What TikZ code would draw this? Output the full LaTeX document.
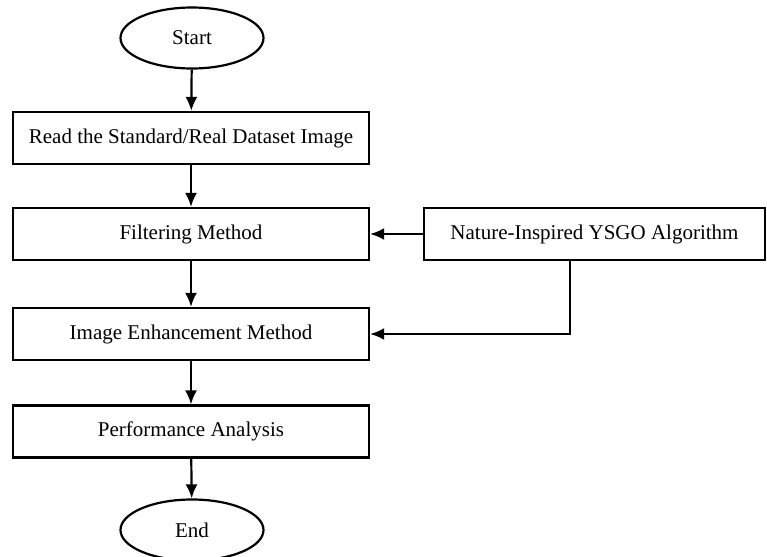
\documentclass[tikz,border=0pt]{standalone}
\usepackage{fontspec}
\setmainfont{Liberation Serif}
\usepackage{tikz}
\usetikzlibrary{arrows.meta,positioning,shapes.geometric,calc}

\begin{document}
\begin{tikzpicture}[x=0.5pt, y=-0.5pt,
    box/.style={rectangle, draw, line width=1.1pt, minimum width=178pt, minimum height=26pt, font=\fontsize{10.5}{12}\selectfont},
    term/.style={ellipse, draw, line width=1.1pt, minimum width=71.5pt, minimum height=30.5pt, inner sep=0pt, font=\fontsize{10.5}{12}\selectfont},
    arr/.style={line width=1.1pt, -{Latex[length=7pt, width=6pt]}},
]
    \clip (0,0) rectangle (767,557);
    \useasboundingbox (0,0) rectangle (767,557);

    % main flow
    \node[term] (start) at (192,38) {Start};
    \node[box] (read) at (191,138) {Read the Standard/Real Dataset Image};
    \node[box] (filt) at (191,234) {Filtering Method};
    \node[box] (enh) at (191,334) {Image Enhancement Method};
    \node[box] (perf) at (191,431.5) {Performance Analysis};
    \node[term] (end) at (192,530) {End};

    % optimiser
    \node[box, minimum width=170.5pt] (ysgo) at (594.5,234) {Nature-Inspired YSGO Algorithm};

    \draw[arr] (start) -- (read);
    \draw[arr] (read) -- (filt);
    \draw[arr] (filt) -- (enh);
    \draw[arr] (enh) -- (perf);
    \draw[arr] (perf) -- (end);
    \draw[arr] (ysgo) -- (filt);
    \draw[arr] ([xshift=-12.25pt]ysgo.south) |- (enh.east);
\end{tikzpicture}
\end{document}
